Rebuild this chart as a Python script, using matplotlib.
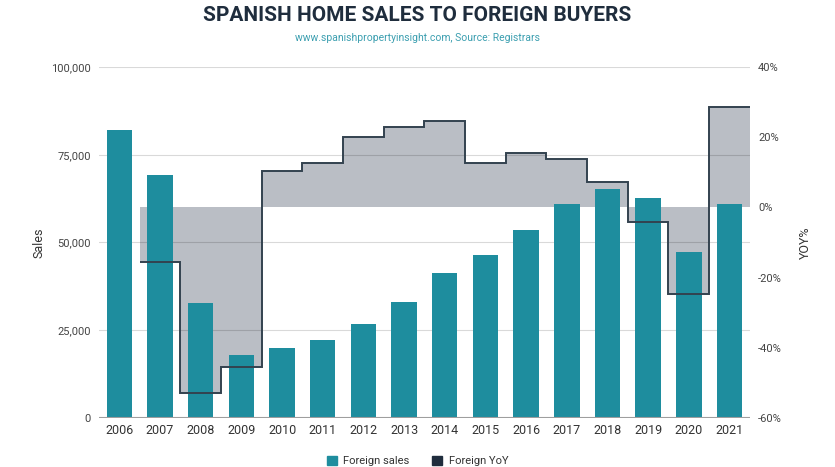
import numpy as np
import matplotlib
matplotlib.use("Agg")
from matplotlib import pyplot as plt
from matplotlib.ticker import FuncFormatter
from matplotlib.patches import Patch

plt.rcParams['font.family'] = ['Roboto', 'DejaVu Sans']

# Data
years = [2006, 2007, 2008, 2009, 2010, 2011, 2012, 2013,
         2014, 2015, 2016, 2017, 2018, 2019, 2020, 2021]
sales = [82000, 69300, 32700, 17900, 19800, 22200, 26800, 33000,
         41200, 46300, 53600, 60900, 65300, 62700, 47200, 60900]
# YoY % starts in 2007
yoy = [-15.6, -52.8, -45.4, 10.4, 12.7, 20.0, 23.0,
       24.6, 12.7, 15.5, 13.7, 7.2, -4.2, -24.8, 28.7]

teal = '#1e8d9e'
navy = '#1f2d3d'
fill_gray = '#babec5'

fig = plt.figure(figsize=(8.35, 4.67), dpi=100)
ax = fig.add_axes([0.1186, 0.105, 0.898 - 0.1186, 0.8565 - 0.105])

# background axis for the YoY fill (behind the bars)
ax_fill = ax.twinx()
ax_fill.set_zorder(0)
ax.set_zorder(1)
ax.patch.set_visible(False)
# top axis for the YoY line
ax_line = ax.twinx()
ax_line.set_zorder(2)
ax_line.patch.set_visible(False)

x = np.arange(len(years))
edges = np.arange(0.5, len(years) + 0.5)

ax_fill.stairs(yoy, edges, baseline=0, fill=True, color=fill_gray, lw=0)
ax_line.stairs(yoy, edges, baseline=None, color='#33424f', lw=1.4)

for a in (ax_fill, ax_line):
    a.set_ylim(-60, 40)
    a.set_xlim(-0.5, len(years) - 0.5)
    for s in a.spines.values():
        s.set_visible(False)

ax_fill.set_yticks([])

# grid lines, drawn over the fill but under the bars
for v in [25000, 50000, 75000, 100000]:
    ax.axhline(v, color='black', alpha=0.15, lw=0.8, zorder=0.5)
ax.axhline(0, color='#9e9e9e', lw=1.5, zorder=3)

ax.bar(x, sales, width=0.625, color=teal, zorder=2)
ax.set_xlim(-0.5, len(years) - 0.5)
ax.set_ylim(0, 100000)
ax.set_yticks([0, 25000, 50000, 75000, 100000])
ax.yaxis.set_major_formatter(FuncFormatter(lambda v, p: f'{int(v):,}'))
ax.set_xticks(x)
ax.set_xticklabels([str(y) for y in years])
ax.tick_params(axis='y', length=0, labelsize=8, labelcolor='#444444', pad=6)
ax.tick_params(axis='x', length=0, labelsize=9, labelcolor='#333333', pad=4)
for s in ax.spines.values():
    s.set_visible(False)
ax.set_ylabel('Sales', fontsize=9, color='#333333', labelpad=4)

ax_line.set_yticks([-60, -40, -20, 0, 20, 40])
ax_line.yaxis.set_major_formatter(FuncFormatter(lambda v, p: f'{int(v)}%'))
ax_line.tick_params(axis='y', length=0, labelsize=8, labelcolor='#444444', pad=6)
ax_line.set_ylabel('YOY%', fontsize=9, color='#333333', labelpad=12)

fig.text(0.5, 0.988, 'SPANISH HOME SALES TO FOREIGN BUYERS', ha='center', va='top',
         fontsize=15, fontweight='bold', color=navy)
fig.text(0.5, 0.93, 'www.spanishpropertyinsight.com, Source: Registrars', ha='center',
         va='top', fontsize=7.5, color='#3c9fb0')

handles = [Patch(color=teal, label='Foreign sales'), Patch(color=navy, label='Foreign YoY')]
fig.legend(handles=handles, loc='lower center', bbox_to_anchor=(0.5, -0.02), ncol=2,
           frameon=False, fontsize=8, handlelength=0.9, handleheight=0.9,
           columnspacing=2.0, handletextpad=0.6, labelcolor='#333333')

fig.savefig('out.png', dpi=100)
